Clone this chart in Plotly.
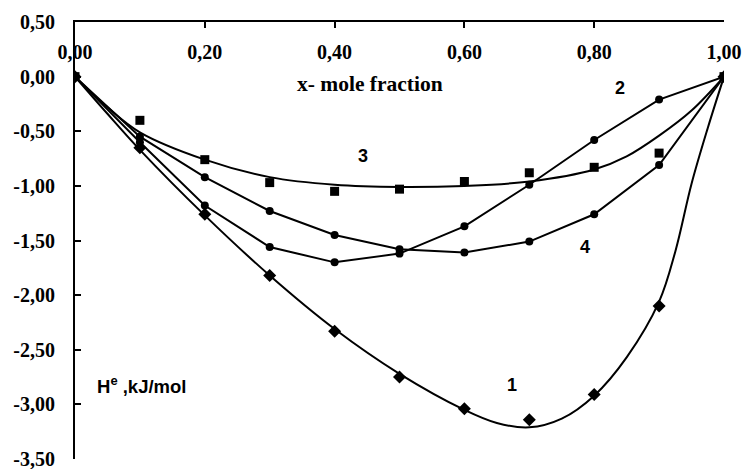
import plotly.graph_objects as go

# ---- data ----
x_pts = [0.0, 0.1, 0.2, 0.3, 0.4, 0.5, 0.6, 0.7, 0.8, 0.9, 1.0]

# series 1 (diamonds, smooth fitted curve)
s1_pts = [0.0, -0.65, -1.26, -1.82, -2.33, -2.75, -3.04, -3.14, -2.91, -2.10, 0.0]
s1_fit_x = [0.0, 0.05, 0.1, 0.2, 0.3, 0.4, 0.5, 0.6, 0.65, 0.7, 0.75, 0.8, 0.85, 0.9, 0.925, 0.95, 0.975, 1.0]
s1_fit_y = [0.0, -0.34, -0.67, -1.27, -1.82, -2.31, -2.72, -3.05, -3.17, -3.21, -3.13, -2.92, -2.57, -2.06, -1.60, -0.98, -0.47, 0.0]

# series 2 (circles, straight segments)
s2_pts = [0.0, -0.60, -1.18, -1.56, -1.70, -1.62, -1.37, -0.99, -0.58, -0.21, 0.0]

# series 3 (squares, smooth fitted curve)
s3_pts = [0.0, -0.40, -0.76, -0.97, -1.05, -1.03, -0.96, -0.88, -0.83, -0.70, 0.0]
s3_fit_x = [0.0, 0.05, 0.1, 0.2, 0.3, 0.4, 0.5, 0.6, 0.7, 0.8, 0.85, 0.9, 0.95, 1.0]
s3_fit_y = [0.0, -0.28, -0.51, -0.76, -0.92, -0.99, -1.01, -1.00, -0.96, -0.85, -0.73, -0.54, -0.31, 0.0]

# series 4 (circles, straight segments)
s4_pts = [0.0, -0.55, -0.92, -1.23, -1.45, -1.58, -1.61, -1.51, -1.26, -0.81, 0.0]

x_ticks = [0.0, 0.2, 0.4, 0.6, 0.8, 1.0]
x_ticktext = ["0,00", "0,20", "0,40", "0,60", "0,80", "1,00"]
y_ticks = [0.5, 0.0, -0.5, -1.0, -1.5, -2.0, -2.5, -3.0, -3.5]
y_ticktext = ["0,50", "0,00", "-0,50", "-1,00", "-1,50", "-2,00", "-2,50", "-3,00", "-3,50"]

series_labels = ["1", "2", "3", "4"]
label_x = [0.673, 0.84, 0.444, 0.786]
label_y = [-2.82, -0.10, -0.73, -1.56]

# ---- figure ----
black = "#000000"
SERIF = "Liberation Serif"
SANS = "Liberation Sans"

fig = go.Figure()

fig.add_trace(go.Scatter(x=s1_fit_x, y=s1_fit_y, mode="lines",
                         line=dict(color=black, width=2, shape="spline", smoothing=1.0),
                         hoverinfo="skip"))
fig.add_trace(go.Scatter(x=x_pts, y=s1_pts, mode="markers",
                         marker=dict(symbol="diamond", size=10, color=black)))

fig.add_trace(go.Scatter(x=s3_fit_x, y=s3_fit_y, mode="lines",
                         line=dict(color=black, width=2, shape="spline", smoothing=1.0),
                         hoverinfo="skip"))
fig.add_trace(go.Scatter(x=x_pts, y=s3_pts, mode="markers",
                         marker=dict(symbol="square", size=9, color=black)))

fig.add_trace(go.Scatter(x=x_pts, y=s2_pts, mode="lines+markers",
                         line=dict(color=black, width=2),
                         marker=dict(symbol="circle", size=8, color=black)))
fig.add_trace(go.Scatter(x=x_pts, y=s4_pts, mode="lines+markers",
                         line=dict(color=black, width=2),
                         marker=dict(symbol="circle", size=8, color=black)))

tick_font = dict(family=SERIF, size=20, color=black, weight="bold")

annotations = []
for t, ax, ay in zip(series_labels, label_x, label_y):
    annotations.append(dict(x=ax, y=ay, xref="x", yref="y", text=t,
                            showarrow=False,
                            font=dict(family=SANS, size=18, color=black, weight="bold")))
annotations.append(dict(x=0.455, y=-0.07, xref="x", yref="y", text="x- mole fraction",
                        showarrow=False,
                        font=dict(family=SERIF, size=21.5, color=black, weight="bold")))
annotations.append(dict(x=0.031, y=-2.82, xref="x", yref="y", xanchor="left",
                        text="H<sup>e</sup> ,kJ/mol",
                        showarrow=False,
                        font=dict(family=SANS, size=18.5, color=black, weight="bold")))

fig.update_layout(
    width=745, height=469,
    margin=dict(l=75, r=21, t=22, b=10),
    paper_bgcolor="white", plot_bgcolor="white",
    showlegend=False,
    annotations=annotations,
    xaxis=dict(range=[0, 1], side="top", tickvals=x_ticks, ticktext=x_ticktext,
               ticks="inside", ticklen=6, tickwidth=2, tickcolor=black,
               showline=True, linewidth=2, linecolor=black,
               showgrid=False, zeroline=False, automargin=False,
               ticklabelposition="inside", ticklabeloverflow="allow",
               ticklabelstandoff=18,
               tickfont=tick_font),
    yaxis=dict(range=[-3.5, 0.5], tickvals=y_ticks, ticktext=y_ticktext,
               ticks="inside", ticklen=6, tickwidth=2, tickcolor=black,
               showline=True, linewidth=2, linecolor=black,
               showgrid=False, zeroline=False, automargin=False,
               ticklabeloverflow="allow",
               ticklabelstandoff=14,
               tickfont=tick_font),
)

# remove the browser's default 8px body margin so the figure sits at the page origin
fig.write_html("out.html",
               config={"displayModeBar": False},
               post_script="document.body.style.margin='0';document.body.style.overflow='hidden';")
